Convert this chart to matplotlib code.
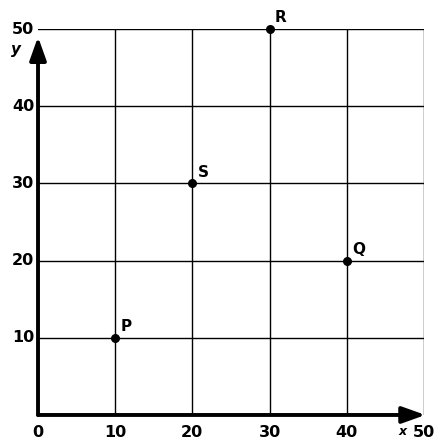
import matplotlib
matplotlib.use("Agg")
import matplotlib.pyplot as plt

labels = ["P", "S", "R", "Q"]
xs = [10, 20, 30, 40]
ys = [10, 30, 50, 20]
ticks = [0, 10, 20, 30, 40, 50]

fig = plt.figure(figsize=(4.42, 4.41), dpi=100)
ax = fig.add_axes([0.086, 0.059, 0.873, 0.875])
ax.set_xlim(0, 50)
ax.set_ylim(0, 50)
for s in ax.spines.values():
    s.set_visible(False)
ax.set_xticks(ticks)
ax.set_yticks(ticks)
ax.set_xticklabels([])
ax.set_yticklabels([])
ax.tick_params(length=0)
for t in ticks[1:]:
    ax.axvline(t, color="black", lw=1.0, zorder=1)
    ax.axhline(t, color="black", lw=1.0, zorder=1)

# axes arrows
ax.annotate("", xy=(50.2, 0), xytext=(0, 0),
            arrowprops=dict(arrowstyle="-|>,head_length=1.4,head_width=0.5", color="black", lw=2.8,
                            shrinkA=0, shrinkB=0), annotation_clip=False, zorder=3)
ax.annotate("", xy=(0, 49.0), xytext=(0, 0),
            arrowprops=dict(arrowstyle="-|>,head_length=1.4,head_width=0.5", color="black", lw=2.8,
                            shrinkA=0, shrinkB=0), annotation_clip=False, zorder=3)

# tick labels
for t in ticks:
    ax.text(t, -1.3, str(t), ha="center", va="top", fontsize=11.5, fontweight="semibold", clip_on=False)
for t in ticks[1:]:
    ax.text(-0.5, t, str(t), ha="right", va="center", fontsize=11.5, fontweight="semibold", clip_on=False)

ax.text(-2.8, 47.3, "y", fontsize=11, fontweight="bold", style="italic", ha="center", va="center", clip_on=False)
ax.text(47.2, -2.2, "x", fontsize=9, fontweight="bold", style="italic", ha="center", va="center", clip_on=False)

ax.scatter(xs, ys, s=30, color="black", zorder=4, clip_on=False)
for lab, x, y in zip(labels, xs, ys):
    ax.text(x + 0.7, y + 0.5, lab, fontsize=11, fontweight="semibold", ha="left", va="bottom", clip_on=False)

fig.savefig("out.png", dpi=100)
